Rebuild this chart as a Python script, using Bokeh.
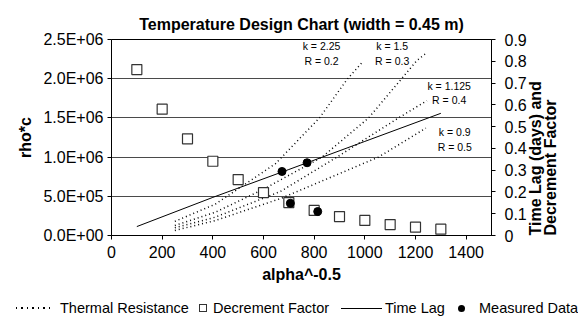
import math
from bokeh.plotting import figure
from bokeh.layouts import column
from bokeh.models import Range1d, LinearAxis, FixedTicker, Div
from bokeh.core.properties import value
from bokeh.embed import file_html
from bokeh.resources import INLINE

# ---------------- data ----------------
x_ticks = [0, 200, 400, 600, 800, 1000, 1200, 1400]
left_ticks = [0, 500000, 1000000, 1500000, 2000000, 2500000]
left_tick_labels = ["0.0E+00", "5.0E+05", "1.0E+06", "1.5E+06", "2.0E+06", "2.5E+06"]
right_ticks = [0, 0.1, 0.2, 0.3, 0.4, 0.5, 0.6, 0.7, 0.8, 0.9]
right_tick_labels = ["0", "0.1", "0.2", "0.3", "0.4", "0.5", "0.6", "0.7", "0.8", "0.9"]

# thermal resistance curves (rho*c vs alpha^-0.5), left axis
tr_x_k225 = [250, 410, 647, 821, 932, 990]
tr_y_k225 = [180000, 400000, 915000, 1500000, 2000000, 2210000]
tr_x_k150 = [250, 410, 600, 831, 1015, 1205, 1240]
tr_y_k150 = [128000, 297000, 590000, 1000000, 1500000, 2230000, 2320000]
tr_x_k1125 = [250, 410, 666, 890, 1133, 1245]
tr_y_k1125 = [98000, 234000, 560000, 1000000, 1500000, 1720000]
tr_x_k090 = [250, 410, 666, 1054, 1241]
tr_y_k090 = [64000, 191000, 470000, 1000000, 1370000]

# decrement factor (right axis)
df_x = [100, 200, 300, 400, 500, 600, 700, 800, 900, 1000, 1100, 1200, 1300]
df_y = [0.762, 0.580, 0.444, 0.341, 0.257, 0.197, 0.151, 0.115, 0.087, 0.069, 0.050, 0.038, 0.029]

# time lag (right axis)
tl_x = [100, 400, 700, 1000, 1300]
tl_y = [0.041, 0.175, 0.303, 0.432, 0.561]

# measured data (right axis)
md_x = [673, 772, 706, 814]
md_y = [0.294, 0.334, 0.148, 0.110]

# curve annotations
ann_text = ["k = 2.25", "R = 0.2", "k = 1.5", "R = 0.3", "k = 1.125", "R = 0.4", "k = 0.9", "R = 0.5"]
ann_x = [829, 829, 1108, 1108, 1333, 1333, 1355, 1355]
ann_y = [2415000, 2226000, 2415000, 2226000, 1903000, 1722000, 1323000, 1135000]

legend_labels = ["Thermal Resistance", "Decrement Factor", "Time Lag", "Measured Data"]

FONT = "Liberation Sans"

p = figure(width=578, height=290, x_range=Range1d(0, 1500), y_range=Range1d(0, 2500000),
           output_backend="svg", toolbar_location=None,
           min_border_left=111, min_border_right=87, min_border_top=39, min_border_bottom=55)
p.extra_y_ranges = {"r": Range1d(0, 0.9)}

p.background_fill_color = "white"
p.border_fill_color = "white"
p.outline_line_color = "black"
p.outline_line_width = 1

# title
p.title.text = "Temperature Design Chart (width = 0.45 m)"
p.title.align = "center"
p.title.vertical_align = "top"
p.title.text_font = FONT
p.title.text_font_size = "16px"
p.title.text_font_style = "bold"
p.title.text_color = "black"

# grid
p.xgrid.visible = False
p.ygrid.ticker = FixedTicker(ticks=left_ticks)
p.ygrid.grid_line_color = "#4a4a4a"
p.ygrid.grid_line_width = 1

def style_axis(ax):
    ax.axis_line_color = "black"
    ax.major_tick_line_color = "black"
    ax.major_tick_out = 4
    ax.major_tick_in = 0
    ax.minor_tick_line_color = None
    ax.major_label_text_font = FONT
    ax.major_label_text_font_size = "16px"
    ax.major_label_text_color = "black"
    ax.axis_label_text_font = FONT
    ax.axis_label_text_font_size = "16px"
    ax.axis_label_text_font_style = "bold"
    ax.axis_label_text_color = "black"

xa = p.xaxis[0]
style_axis(xa)
xa.ticker = FixedTicker(ticks=x_ticks)
xa.major_label_standoff = 6
xa.axis_label = "alpha^-0.5"
xa.axis_label_standoff = 5

ya = p.yaxis[0]
style_axis(ya)
ya.ticker = FixedTicker(ticks=left_ticks)
ya.major_label_overrides = dict(zip(left_ticks, left_tick_labels))
ya.major_label_standoff = 4
ya.axis_label = "rho*c"
ya.axis_label_standoff = 6

ra = LinearAxis(y_range_name="r", ticker=FixedTicker(ticks=right_ticks))
style_axis(ra)
ra.major_label_overrides = dict(zip(right_ticks, right_tick_labels))
ra.major_label_standoff = 9
ra.axis_label = "    Time Lag (days) and\n    Decrement Factor"
ra.axis_label_standoff = 13
ra.axis_label_text_line_height = 0.9
try:
    ra.axis_label_orientation = math.pi / 2
except Exception:
    pass
try:
    ra.axis_label_align = "start"
except Exception:
    pass
p.add_layout(ra, "right")

# thermal resistance lines
dot = dict(line_color="black", line_width=1.5, line_dash="1 3")
p.line(tr_x_k225, tr_y_k225, **dot)
p.line(tr_x_k150, tr_y_k150, **dot)
p.line(tr_x_k1125, tr_y_k1125, **dot)
p.line(tr_x_k090, tr_y_k090, **dot)

# time lag
p.line(tl_x, tl_y, y_range_name="r", line_color="black", line_width=1)

# decrement factor
p.scatter(df_x, df_y, y_range_name="r", marker="square", size=10,
          fill_color="white", line_color="#333333", line_width=1.2)

# measured data
p.scatter(md_x, md_y, y_range_name="r", marker="circle", size=8,
          fill_color="black", line_color="black")

# annotations
p.text(x=ann_x, y=ann_y, text=ann_text, text_font=value(FONT), text_font_size=value("10.5px"),
       text_align="center", text_baseline="middle", text_color="black")

# ---------------- legend strip ----------------
swatch_dot = ('<span style="position:absolute;left:16px;top:17px;width:37px;height:1.5px;'
              'background:repeating-linear-gradient(to right,#000 0 1.5px,transparent 1.5px 5.5px);"></span>')
swatch_sq = ('<span style="position:absolute;left:199px;top:14px;width:8px;height:8px;box-sizing:border-box;'
             'border:1px solid #333;background:#fff;"></span>')
swatch_ln = '<span style="position:absolute;left:341px;top:17.5px;width:41px;height:1px;background:#000;"></span>'
swatch_ci = ('<span style="position:absolute;left:458px;top:14.5px;width:7px;height:7px;border-radius:50%;'
             'background:#000;"></span>')
lbl = '<span style="position:absolute;left:{}px;top:10px;line-height:17px;white-space:nowrap;">{}</span>'
html = ('<div style="position:relative;width:578px;height:30px;font-family:\'Liberation Sans\',Arial,sans-serif;'
        'font-size:14.5px;color:#000;">'
        + swatch_dot + lbl.format(60, legend_labels[0])
        + swatch_sq + lbl.format(213, legend_labels[1])
        + swatch_ln + lbl.format(385, legend_labels[2])
        + swatch_ci + lbl.format(479, legend_labels[3])
        + '</div>')
legend_div = Div(text=html, width=578, height=30, margin=0)

layout = column(p, legend_div, spacing=0)
open("out.html", "w").write(file_html(layout, INLINE))
